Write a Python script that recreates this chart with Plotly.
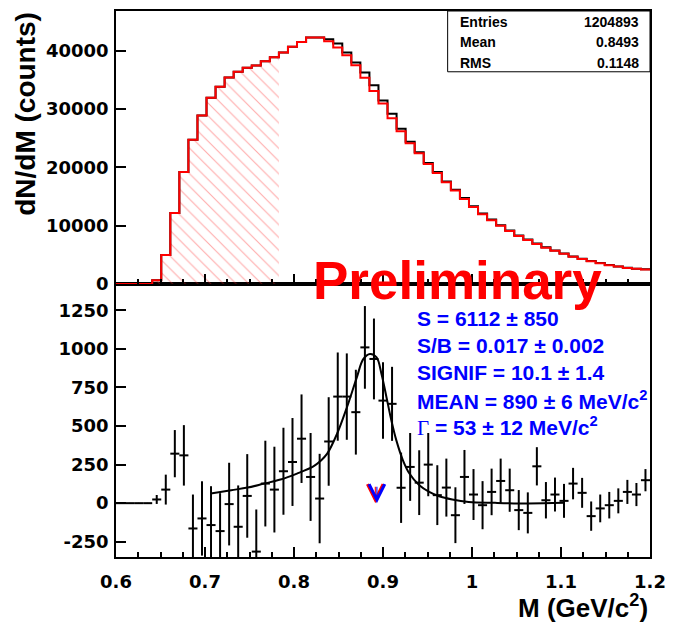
import numpy as np
import plotly.graph_objects as go

# ---------------- data ----------------
m_min, m_max, n_bins = 0.6, 1.2, 59          # histogram binning (GeV/c^2)

# top panel: same-event pair invariant mass (counts / bin)
same_event = [0, 0, 0, 0, 630, 4960, 12190, 19200, 24730, 28890, 31970, 33850,
              35440, 36410, 37100, 37500, 38200, 38900, 39700, 40700, 41500, 42300,
              42300, 42000, 41250, 39700, 38000, 36300, 34100, 31500, 29200, 26650,
              24400, 22600, 20740, 19200, 17600, 16190, 14750, 13330, 12080, 11060,
              10090, 9180, 8320, 7640, 6960, 6320, 5760, 5250, 4730, 4330, 3930,
              3590, 3250, 3020, 2790, 2620, 2520]
# top panel: normalised mixed-event background (counts / bin)
mixed_event = [0, 0, 0, 0, 630, 4960, 12190, 19200, 24730, 28890, 31970, 33850,
               35440, 36410, 37100, 37500, 38200, 38900, 39700, 40700, 41500, 42300,
               42300, 41650, 40560, 39260, 37550, 35380, 33110, 30990, 28430, 26200,
               24150, 22450, 20600, 19050, 17450, 16050, 14600, 13200, 11950, 10950,
               9980, 9080, 8230, 7550, 6880, 6240, 5690, 5190, 4680, 4280, 3890,
               3550, 3220, 2990, 2760, 2600, 2500]
norm_bins = (4, 18)          # bin index range of the normalisation (hatched) region

# bottom panel: background-subtracted signal and its errors
signal = [0, 0, 0, 0, 24, 88, 321, 310, -164, -99, -142, -181, -6, -153, 47, -314,
          127, 88, 207, 267, 418, 170, 30, 400, 691, 691, 590, 1010, 935, 665, 644,
          100, 235, 133, 250, 52, 101, -78, 170, 56, -13, 73, 144, 84, -45, -63, 239,
          19, 56, 15, 127, 67, -84, -34, -13, 15, 73, 56, 149]
signal_err = [0, 0, 0, 0, 29, 97, 153, 196, 220, 241, 252, 246, 268, 268, 271, 273,
              278, 278, 282, 285, 287, 285, 290, 287, 286, 280, 275, 268, 262, 248,
              240, 228, 220, 210, 205, 194, 188, 181, 175, 165, 156, 151, 145, 140,
              130, 133, 124, 118, 110, 110, 102, 97, 95, 90, 86, 81, 78, 75, 72]

# fit curve (Breit-Wigner + residual background), sampled from the figure
fit_m = [0.7065, 0.7294, 0.7479, 0.7664, 0.7848, 0.8033, 0.8218, 0.8300, 0.8373,
         0.8484, 0.8595, 0.8706, 0.8780, 0.8854, 0.8928, 0.8983, 0.9039, 0.9094,
         0.9150, 0.9224, 0.9297, 0.9408, 0.9519, 0.9630, 0.9778, 0.9963, 1.0259,
         1.0628, 1.1035]
fit_val = [63, 84, 101, 127, 153, 192, 239, 275, 321, 450, 622, 816, 935, 967, 945,
           838, 687, 536, 407, 278, 192, 116, 73, 45, 24, 8, 2, -2, 2]

mean_mass = 0.890
stats_rows = [("Entries", "1204893"), ("Mean", "0.8493"), ("RMS", "0.1148")]
fit_text = ["S = 6112 \u00b1 850",
            "S/B = 0.017 \u00b1 0.002",
            "SIGNIF = 10.1 \u00b1 1.4",
            "MEAN = 890 \u00b1 6 MeV/c<sup>2</sup>",
            "<span style=\"font-family:'Liberation Serif';font-weight:normal\">\u0393</span>"
            " = 53 \u00b1 12 MeV/c<sup>2</sup>"]
top_ticks = [0, 10000, 20000, 30000, 40000]
bot_ticks = [-250, 0, 250, 500, 750, 1000, 1250]
bot_ticktext = ["-250", "0", "250", "500", "750", "1000", "1250"]

# ---------------- derived ----------------
edges = np.linspace(m_min, m_max, n_bins + 1)
centers = 0.5 * (edges[:-1] + edges[1:])
half_w = (m_max - m_min) / n_bins / 2


def step(vals):
    return list(vals) + [vals[-1]]


W, H = 675, 624
L, R, T, B = 116, 18, 9, 67
PW, PH = W - L - R, H - T - B


def px(x):
    return (x - L) / PW


def py(y):
    return (H - B - y) / PH


fig = go.Figure()

h0, h1 = norm_bins
fig.add_trace(go.Scatter(
    x=edges[h0:h1 + 1], y=step(mixed_event[h0:h1]), mode="lines",
    line=dict(width=0, shape="hv"), fill="tozeroy", fillcolor="rgba(0,0,0,0)",
    fillpattern=dict(shape="\\", fgcolor="rgba(255,40,40,0.8)",
                     bgcolor="rgba(0,0,0,0)", size=9, solidity=0.12),
    xaxis="x2", yaxis="y2", hoverinfo="skip"))
fig.add_trace(go.Scatter(
    x=edges, y=step(same_event), mode="lines",
    line=dict(color="black", width=2, shape="hv"), xaxis="x2", yaxis="y2"))
fig.add_trace(go.Scatter(
    x=edges, y=step(mixed_event), mode="lines",
    line=dict(color="red", width=2, shape="hv"), xaxis="x2", yaxis="y2"))

fig.add_trace(go.Scatter(
    x=centers, y=signal, mode="markers", marker=dict(size=1, color="black"),
    error_y=dict(type="data", array=signal_err, color="black", thickness=2, width=0),
    error_x=dict(type="constant", value=half_w, color="black", thickness=2, width=0),
    xaxis="x", yaxis="y"))
fig.add_trace(go.Scatter(
    x=fit_m, y=fit_val, mode="lines",
    line=dict(color="black", width=2, shape="spline"), xaxis="x", yaxis="y"))

tickfont = dict(family="DejaVu Sans", size=18, color="black", weight="bold")
common_x = dict(range=[m_min, m_max], tick0=0.6, dtick=0.1, ticks="inside",
                ticklen=10, tickwidth=1.5, tickcolor="black",
                minor=dict(ticks="inside", ticklen=5, tick0=0.6, dtick=0.025,
                           tickwidth=1.5, tickcolor="black"),
                showline=True, mirror=True, linecolor="black", linewidth=1.5,
                showgrid=False, zeroline=False, tickfont=tickfont)
common_y = dict(ticks="inside", ticklen=10, tickwidth=1.5, tickcolor="black",
                showline=True, mirror=True, linecolor="black", linewidth=1.5,
                showgrid=False, zeroline=False, tickfont=tickfont,
                ticklabelstandoff=2)

fig.update_layout(
    width=W, height=H, margin=dict(l=L, r=R, t=T, b=B),
    plot_bgcolor="white", paper_bgcolor="white", showlegend=False,
    xaxis=dict(domain=[0, 1], anchor="y", ticklabelstandoff=8, **common_x),
    xaxis2=dict(domain=[0, 1], anchor="y2", matches="x", showticklabels=False,
                **common_x),
    yaxis=dict(domain=[0, 0.5], anchor="x", range=[-349, 1421],
               tickvals=bot_ticks, ticktext=bot_ticktext, **common_y),
    yaxis2=dict(domain=[0.5, 1], anchor="x2", range=[0, 46840],
                tickvals=top_ticks, ticktext=[str(v) for v in top_ticks], **common_y),
)

ann = []
# stats box
fig.add_shape(type="rect", xref="paper", yref="paper", x0=px(452), x1=1,
              y0=py(70), y1=1, line=dict(color="black", width=1),
              fillcolor="white", layer="above")
for i, (k, v) in enumerate(stats_rows):
    yy = py(20 + 20.5 * i)
    sf = dict(family="Liberation Sans", size=14, color="black", weight="bold")
    ann.append(dict(xref="paper", yref="paper", x=px(462), y=yy, text=k,
                    xanchor="left", yanchor="middle", showarrow=False, font=sf))
    ann.append(dict(xref="paper", yref="paper", x=px(648), y=yy, text=v,
                    xanchor="right", yanchor="middle", showarrow=False, font=sf))

# Preliminary
ann.append(dict(xref="paper", yref="paper", x=px(462), y=py(279), text="Preliminary",
                xanchor="center", yanchor="middle", showarrow=False,
                font=dict(family="Liberation Sans", size=53, color="red", weight="bold")))

# fit results
for i, t in enumerate(fit_text):
    ann.append(dict(xref="paper", yref="paper", x=px(419), y=py(318 + 27.1 * i),
                    text=t, xanchor="left", yanchor="middle", showarrow=False,
                    font=dict(family="Liberation Sans", size=21, color="blue",
                              weight="bold")))

# mean-mass arrow (red and blue drawn slightly offset)
for col, sh in (("red", -0.8), ("blue", 0.8)):
    ann.append(dict(xref="x", yref="y", x=mean_mass, y=0, ax=0, ay=-18, text="",
                    showarrow=True, arrowhead=5, arrowsize=2.8, arrowwidth=1.1,
                    arrowcolor=col, xshift=sh + 2))

# axis titles
ann.append(dict(xref="paper", yref="paper", x=px(24), y=py(112),
                text="dN/dM (counts)", textangle=-90, xanchor="center",
                yanchor="middle", showarrow=False,
                font=dict(family="Liberation Sans", size=28, color="black",
                          weight="bold")))
ann.append(dict(xref="paper", yref="paper", x=px(657), y=py(607),
                text="M (GeV/c<sup>2</sup>)", xanchor="right", yanchor="middle",
                showarrow=False,
                font=dict(family="Liberation Sans", size=26, color="black",
                          weight="bold")))
fig.update_layout(annotations=ann)

fig.write_html("out.html")
